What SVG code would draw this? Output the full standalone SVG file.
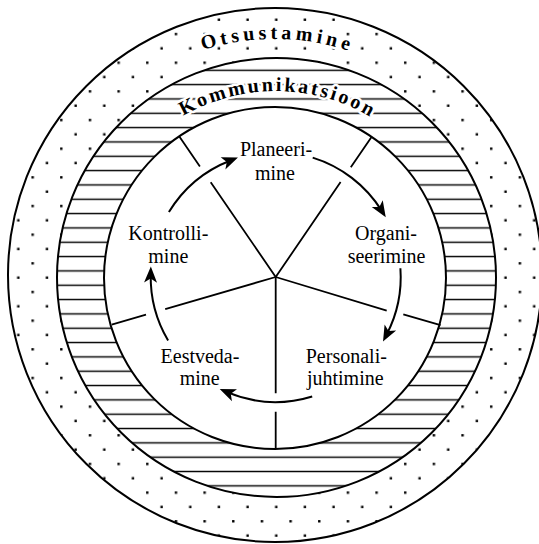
<svg xmlns="http://www.w3.org/2000/svg" width="539" height="544" viewBox="0 0 539 544">
<style>
.ring{stroke:#000;stroke-width:2}
.spoke{stroke:#000;stroke-width:1.8;fill:none}
.arc{stroke:#000;stroke-width:2;fill:none;marker-end:url(#ah)}
.lbl{font-family:"Liberation Serif","Times New Roman",serif;font-size:20px;font-weight:normal;text-anchor:middle;fill:#000}
.ring-text{font-family:"Liberation Serif","Times New Roman",serif;font-weight:bold;font-size:20px;fill:#000;stroke:#fff;stroke-width:5;paint-order:stroke;stroke-linejoin:round}
</style>
<defs>
<pattern id="dots" patternUnits="userSpaceOnUse" x="25.47" y="198.83" width="28.66" height="28.66">
<rect x="6" y="6" width="2.4" height="2.4" fill="#000"/>
<rect x="20.3" y="20.3" width="2.4" height="2.4" fill="#000"/>
</pattern>
<pattern id="hatch" patternUnits="userSpaceOnUse" x="0" y="63.13" width="539" height="14.33">
<line x1="0" y1="7.165" x2="539" y2="7.165" stroke="#000" stroke-width="1.5"/>
</pattern>
<marker id="ah" markerUnits="userSpaceOnUse" viewBox="-10 -10 20 20" markerWidth="20" markerHeight="20" refX="0" refY="0" orient="auto">
<path d="M8,0 L-8,-6.5 L-4,0 L-8,6.5 Z" fill="#000"/>
</marker>
<path id="p-ots" d="M70,158 A236,236 0 0 1 480,158"/>
<path id="p-kom" d="M115,184 A186,186 0 0 1 437,184"/>
</defs>
<g id="rings">
<circle class="ring" cx="275" cy="275" r="267" fill="url(#dots)"/>
<circle cx="276.5" cy="277.5" r="219.5" fill="#fff"/>
<circle class="ring" cx="276.5" cy="277.5" r="219.5" fill="url(#hatch)"/>
<circle class="ring" cx="275" cy="278" r="171" fill="#fff"/>
</g>
<g id="ring-labels">
<text class="ring-text" letter-spacing="4"><textPath href="#p-ots" startOffset="50.5%" text-anchor="middle">Otsustamine</textPath></text>
<text class="ring-text" letter-spacing="2.6"><textPath href="#p-kom" startOffset="50.5%" text-anchor="middle">Kommunikatsioon</textPath></text>
</g>
<g id="spokes">
<path class="spoke" d="M275.7,277 L210.7,182.2 M199.9,166.5 L179,136"/>
<path class="spoke" d="M275.7,277 L340.6,182.1 M350.8,167.2 L371.7,136.7"/>
<path class="spoke" d="M275.7,277 L165.2,309.1 M146,314.6 L111.7,324.6"/>
<path class="spoke" d="M275.7,277 L386.7,310.7 M403.3,314.3 L440.5,325.2"/>
<path class="spoke" d="M275.7,277 L275.7,393.3 M275.7,411.7 L275.7,449"/>
</g>
<g id="connectors">
<path class="arc" d="M168.9,212.1 A125,125 0 0 1 230.5,160.5"/>
<path class="arc" d="M312.7,157.6 A125,125 0 0 1 381.5,210.4"/>
<path class="arc" d="M400.4,268.3 A125,125 0 0 1 386.7,334.5"/>
<path class="arc" d="M312.2,396.5 A125,125 0 0 1 227.1,392.2"/>
<path class="arc" d="M168.1,340.6 A125,125 0 0 1 150.7,274.6"/>
</g>
<g id="node-planeerimine">
<text class="lbl" x="276" y="156">Planeeri-</text>
<text class="lbl" x="275" y="180">mine</text>
</g>
<g id="node-organiseerimine">
<text class="lbl" x="386" y="240">Organi-</text>
<text class="lbl" x="386.5" y="263">seerimine</text>
</g>
<g id="node-personalijuhtimine">
<text class="lbl" x="346.3" y="362.5">Personali-</text>
<text class="lbl" x="345.3" y="385">juhtimine</text>
</g>
<g id="node-eestvedamine">
<text class="lbl" x="200" y="362.5">Eestveda-</text>
<text class="lbl" x="199.7" y="385">mine</text>
</g>
<g id="node-kontrollimine">
<text class="lbl" x="168.3" y="240">Kontrolli-</text>
<text class="lbl" x="168.3" y="263">mine</text>
</g>
</svg>
